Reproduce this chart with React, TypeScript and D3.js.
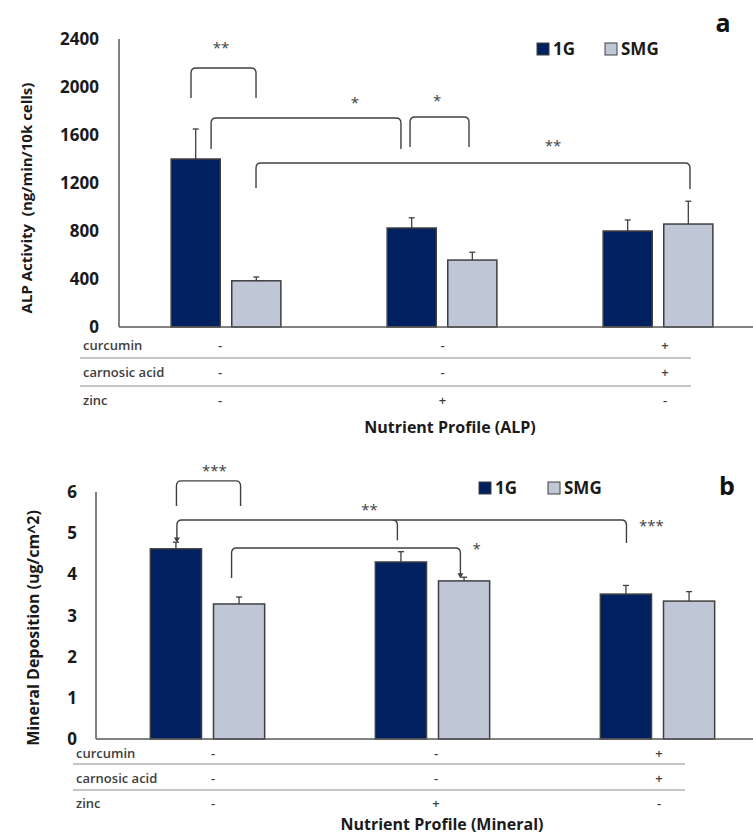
import React from "react";
import * as d3 from "d3";

const categories = ["none", "zinc", "curcumin+carnosic"];
const series = ["1G", "SMG"];

const alp1G = [1400, 825, 800];
const alp1GErr = [250, 85, 92];
const alpSMG = [385, 558, 858];
const alpSMGErr = [32, 65, 190];
const alpTicks = [0, 400, 800, 1200, 1600, 2000, 2400];

const min1G = [4.62, 4.3, 3.52];
const min1GErr = [0.16, 0.25, 0.21];
const minSMG = [3.28, 3.84, 3.35];
const minSMGErr = [0.17, 0.09, 0.23];
const minTicks = [0, 1, 2, 3, 4, 5, 6];

const tableRows = ["curcumin", "carnosic acid", "zinc"];
const curcumin = ["-", "-", "+"];
const carnosic = ["-", "-", "+"];
const zinc = ["-", "+", "-"];

// brackets: legs in category units (0 = first group centre), y in data units
type Leg = { c: number; bottom: number; arrow?: boolean };
type Bracket = { legs: Leg[]; top: number };
type Star = { c: number; v: number; t: string };

const alpBrackets: Bracket[] = [
  { legs: [{ c: -0.162, bottom: 1908 }, { c: 0.139, bottom: 1908 }], top: 2158 },
  { legs: [{ c: -0.069, bottom: 1483 }, { c: 0.81, bottom: 1483 }], top: 1742 },
  { legs: [{ c: 0.852, bottom: 1500 }, { c: 1.125, bottom: 1500 }], top: 1750 },
  { legs: [{ c: 0.139, bottom: 1158 }, { c: 2.148, bottom: 1150 }], top: 1367 },
];
const alpStars: Star[] = [
  { c: -0.023, v: 2350, t: "**" },
  { c: 0.597, v: 1892, t: "*" },
  { c: 0.977, v: 1908, t: "*" },
  { c: 1.514, v: 1533, t: "**" },
];

const minBrackets: Bracket[] = [
  { legs: [{ c: -0.138, bottom: 5.66 }, { c: 0.147, bottom: 5.66 }], top: 6.27 },
  {
    legs: [
      { c: -0.136, bottom: 4.8, arrow: true },
      { c: 0.844, bottom: 4.83 },
      { c: 1.862, bottom: 4.76 },
    ],
    top: 5.32,
  },
  { legs: [{ c: 0.107, bottom: 3.91 }, { c: 1.124, bottom: 3.93, arrow: true }], top: 4.64 },
];
const minStars: Star[] = [
  { c: 0.031, v: 6.58, t: "***" },
  { c: 0.72, v: 5.63, t: "**" },
  { c: 1.973, v: 5.25, t: "***" },
  { c: 1.196, v: 4.69, t: "*" },
];

const C1G = "#002060";
const CSMG = "#bfc7d6";
const EDGE = "#3f3f3f";
const FONT = "'Open Sans', 'Noto Sans', sans-serif";

type PanelProps = {
  v1: number[];
  e1: number[];
  v2: number[];
  e2: number[];
  ticks: number[];
  domainMax: number;
  yTop: number;
  yBottom: number;
  xStart: number;
  xEnd: number;
  axisX: number;
  axisRight: number;
  tickLabelX: number;
  tickFont: number;
  yTitle: string;
  yTitleX: number;
  yTitleY: number;
  yTitleFont: number;
  xTitle: string;
  xTitleX: number;
  xTitleY: number;
  tableRowY: number[];
  tableLineY: number[];
  tableLineX: [number, number];
  rowLabelX: number;
  tableColX: [number, number];
  legendX: [number, number];
  legendY: number;
  letter: string;
  letterX: number;
  letterY: number;
  brackets: Bracket[];
  stars: Star[];
};

function Panel(p: PanelProps) {
  const y = d3.scaleLinear().domain([0, p.domainMax]).range([p.yBottom, p.yTop]);
  const x = d3.scaleBand<string>().domain(categories).range([p.xStart, p.xEnd]).padding(0);
  const bw = x.bandwidth();
  const inner = d3
    .scaleBand<string>()
    .domain(series)
    .range([-bw * 0.254, bw * 0.254])
    .paddingInner(0.19);
  const c0 = (x(categories[0]) as number) + bw / 2;
  const cx = (c: number) => c0 + c * x.step();
  const tableX = d3.scalePoint<string>().domain(categories).range(p.tableColX);

  const bars: { cat: string; s: string; v: number; e: number }[] = [];
  categories.forEach((cat, i) => {
    bars.push({ cat, s: series[0], v: p.v1[i], e: p.e1[i] });
    bars.push({ cat, s: series[1], v: p.v2[i], e: p.e2[i] });
  });

  const r = 5;
  const bracketPath = (b: Bracket) => {
    const legs = b.legs;
    const yt = y(b.top);
    const first = legs[0];
    const last = legs[legs.length - 1];
    const x0 = cx(first.c);
    const x1 = cx(last.c);
    let d = `M${x0},${y(first.bottom)} L${x0},${yt + r} Q${x0},${yt} ${x0 + r},${yt} L${x1 - r},${yt} Q${x1},${yt} ${x1},${yt + r} L${x1},${y(last.bottom)}`;
    legs.slice(1, -1).forEach((l) => {
      const xm = cx(l.c);
      d += ` M${xm - r},${yt} Q${xm},${yt} ${xm},${yt + r} L${xm},${y(l.bottom)}`;
    });
    return d;
  };

  const rowVals = [curcumin, carnosic, zinc];

  return (
    <g>
      {/* bars */}
      {bars.map((b, i) => {
        const bx = (x(b.cat) as number) + bw / 2 + (inner(b.s) as number);
        const w = inner.bandwidth();
        const top = y(b.v);
        const et = y(b.v + b.e);
        const mx = bx + w / 2;
        return (
          <g key={i}>
            <line x1={mx} x2={mx} y1={top} y2={et} stroke={EDGE} strokeWidth={1.3} />
            <line x1={mx - 3} x2={mx + 3} y1={et} y2={et} stroke={EDGE} strokeWidth={1.3} />
            <rect
              x={bx}
              y={top}
              width={w}
              height={y(0) - top}
              fill={b.s === "1G" ? C1G : CSMG}
              stroke={EDGE}
              strokeWidth={1.5}
            />
          </g>
        );
      })}
      {/* axes */}
      <line x1={p.axisX} x2={p.axisX} y1={p.yTop} y2={p.yBottom} stroke="#595959" strokeWidth={1.5} />
      <line x1={p.axisX} x2={p.axisRight} y1={p.yBottom} y2={p.yBottom} stroke="#595959" strokeWidth={1.5} />
      {p.ticks.map((t) => (
        <text
          key={t}
          x={p.tickLabelX}
          y={y(t)}
          dy="0.36em"
          textAnchor="end"
          fontFamily={FONT}
          fontWeight={700}
          fontSize={p.tickFont}
          fill="#1a1a1a"
        >
          {t}
        </text>
      ))}
      <text
        transform={`translate(${p.yTitleX},${p.yTitleY}) rotate(-90)`}
        textAnchor="middle"
        dy="0.36em"
        fontFamily={FONT}
        fontWeight={700}
        fontSize={p.yTitleFont}
        fill="#1a1a1a"
        style={{ whiteSpace: "pre" }}
      >
        {p.yTitle}
      </text>
      {/* brackets */}
      {p.brackets.map((b, i) => (
        <g key={i}>
          <path d={bracketPath(b)} fill="none" stroke="#404040" strokeWidth={1.4} />
          {b.legs
            .filter((l) => l.arrow)
            .map((l, j) => {
              const ax = cx(l.c);
              const ay = y(l.bottom);
              return (
                <path key={j} d={`M${ax - 3},${ay - 4} L${ax + 3},${ay - 4} L${ax},${ay + 1} Z`} fill="#404040" />
              );
            })}
        </g>
      ))}
      {p.stars.map((s, i) => (
        <text
          key={i}
          x={cx(s.c)}
          y={y(s.v) + 8}
          textAnchor="middle"
          fontFamily={FONT}
          fontSize={15}
          fill="#404040"
        >
          {s.t}
        </text>
      ))}
      {/* table */}
      {p.tableLineY.map((ly, i) => (
        <line key={i} x1={p.tableLineX[0]} x2={p.tableLineX[1]} y1={ly} y2={ly} stroke="#8c8c8c" strokeWidth={1} />
      ))}
      {tableRows.map((row, i) => (
        <g key={row}>
          <text x={p.rowLabelX} y={p.tableRowY[i]} fontFamily={FONT} fontWeight={600} fontSize={13} fill="#404040">
            {row}
          </text>
          {categories.map((cat, j) => (
            <text
              key={cat}
              x={tableX(cat)}
              y={p.tableRowY[i]}
              textAnchor="middle"
              fontFamily={FONT}
              fontWeight={600}
              fontSize={13}
              fill="#404040"
            >
              {rowVals[i][j]}
            </text>
          ))}
        </g>
      ))}
      <text
        x={p.xTitleX}
        y={p.xTitleY}
        textAnchor="middle"
        fontFamily={FONT}
        fontWeight={700}
        fontSize={16}
        fill="#1a1a1a"
      >
        {p.xTitle}
      </text>
      {/* legend */}
      {series.map((s, i) => (
        <g key={s} transform={`translate(${p.legendX[i]},${p.legendY})`}>
          <rect x={0} y={-6} width={12} height={12} fill={i === 0 ? C1G : CSMG} stroke={EDGE} strokeWidth={1} />
          <text x={16} y={0} dy="0.36em" fontFamily={FONT} fontWeight={700} fontSize={17} fill="#1a1a1a">
            {s}
          </text>
        </g>
      ))}
      <text
        x={p.letterX}
        y={p.letterY}
        dy="0.36em"
        textAnchor="middle"
        fontFamily={FONT}
        fontWeight={700}
        fontSize={25}
        fill="#111"
      >
        {p.letter}
      </text>
    </g>
  );
}

export default function App() {
  return (
    <svg
      width={753}
      height={836}
      viewBox="0 0 753 836"
      style={{ position: "absolute", left: 0, top: 0, background: "#fff" }}
    >
      <rect width={753} height={836} fill="#fff" />
      <Panel
        v1={alp1G}
        e1={alp1GErr}
        v2={alpSMG}
        e2={alpSMGErr}
        ticks={alpTicks}
        domainMax={2400}
        yTop={39}
        yBottom={327}
        xStart={118}
        xEnd={766}
        axisX={119}
        axisRight={753}
        tickLabelX={99}
        tickFont={17}
        yTitle="ALP Activity  (ng/min/10k cells)"
        yTitleX={27}
        yTitleY={198}
        yTitleFont={15}
        xTitle="Nutrient Profile (ALP)"
        xTitleX={450}
        xTitleY={433}
        tableRowY={[350, 377, 405]}
        tableLineY={[358, 386]}
        tableLineX={[80, 691]}
        rowLabelX={83}
        tableColX={[220, 665]}
        legendX={[537, 605]}
        legendY={49}
        letter="a"
        letterX={723}
        letterY={23}
        brackets={alpBrackets}
        stars={alpStars}
      />
      <Panel
        v1={min1G}
        e1={min1GErr}
        v2={minSMG}
        e2={minSMGErr}
        ticks={minTicks}
        domainMax={6}
        yTop={492}
        yBottom={739}
        xStart={95}
        xEnd={770}
        axisX={96}
        axisRight={753}
        tickLabelX={77}
        tickFont={17}
        yTitle="Mineral Deposition (ug/cm^2)"
        yTitleX={33}
        yTitleY={628}
        yTitleFont={16}
        xTitle="Nutrient Profile (Mineral)"
        xTitleX={442}
        xTitleY={830}
        tableRowY={[758, 783, 808]}
        tableLineY={[764, 790]}
        tableLineX={[73, 685]}
        rowLabelX={76}
        tableColX={[213, 659]}
        legendX={[479, 548]}
        legendY={488}
        letter="b"
        letterX={727}
        letterY={486}
        brackets={minBrackets}
        stars={minStars}
      />
    </svg>
  );
}
